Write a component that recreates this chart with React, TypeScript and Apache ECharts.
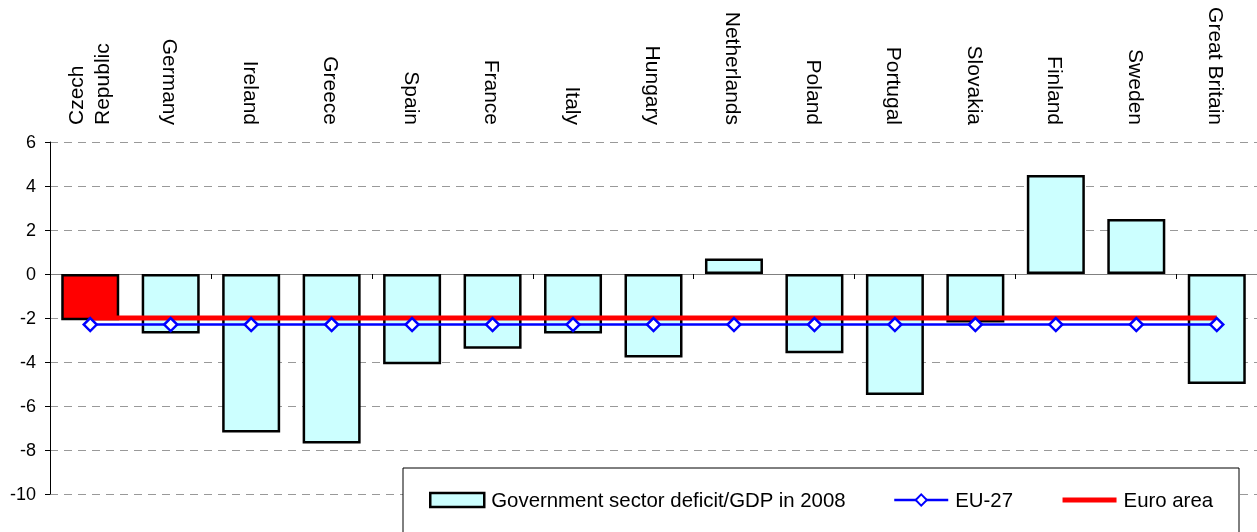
import React, { useEffect, useRef } from "react";
import * as echarts from "echarts";

const categories = [
  "Czech\nRepublic", "Germany", "Ireland", "Greece", "Spain", "France", "Italy",
  "Hungary", "Netherlands", "Poland", "Portugal", "Slovakia", "Finland", "Sweden", "Great Britain",
];
const deficit = [-2.1, -2.7, -7.2, -7.7, -4.1, -3.4, -2.7, -3.8, 0.7, -3.6, -5.5, -2.2, 4.5, 2.5, -5.0];
const eu27 = [-2.3, -2.3, -2.3, -2.3, -2.3, -2.3, -2.3, -2.3, -2.3, -2.3, -2.3, -2.3, -2.3, -2.3, -2.3];
const euroArea = [-2.0, -2.0, -2.0, -2.0, -2.0, -2.0, -2.0, -2.0, -2.0, -2.0, -2.0, -2.0, -2.0, -2.0, -2.0];
const yTicks = { min: -10, max: 6, interval: 2 };

export default function App() {
  const ref = useRef<HTMLDivElement>(null);
  useEffect(() => {
    if (!ref.current) return;
    const chart = echarts.init(ref.current, null, { renderer: "svg" });
    const font = "'Liberation Sans', Arial, sans-serif";
    const firstLines = categories[0].split("\n");
    chart.setOption({
      animation: false,
      textStyle: { fontFamily: font, color: "#000" },
      grid: { left: 50, top: 142, width: 1210, height: 352, containLabel: false },
      xAxis: [
        {
          type: "category",
          data: categories,
          position: "bottom",
          axisLine: { onZero: true, lineStyle: { color: "#808080", width: 1 } },
          axisTick: { show: true, length: 5, lineStyle: { color: "#000" } },
          axisLabel: { show: false },
          splitLine: { show: false },
        },
        {
          type: "category",
          data: categories,
          position: "top",
          axisLine: { show: false },
          axisTick: { show: false },
          axisLabel: {
            rotate: 90,
            margin: 17,
            fontSize: 21,
            color: "#000",
            fontFamily: font,
            interval: 0,
            formatter: (v: string, i: number) => (i === 0 ? "" : v),
          },
        },
      ],
      yAxis: {
        type: "value",
        min: yTicks.min,
        max: yTicks.max,
        interval: yTicks.interval,
        axisLine: { show: true, lineStyle: { color: "#000", width: 1 } },
        axisTick: { show: true, length: 5, lineStyle: { color: "#000" } },
        axisLabel: { fontSize: 18, margin: 14, color: "#000", fontFamily: font },
        splitLine: { show: true, lineStyle: { color: "#999", type: [8, 6], width: 1 } },
      },
      legend: {
        left: 424,
        top: 485,
        itemWidth: 54,
        itemHeight: 14,
        itemGap: 47,
        textStyle: { fontSize: 20.4, color: "#000", fontFamily: font, padding: [0, 0, 0, 2] },
        data: [
          {
            name: "Government sector deficit/GDP in 2008",
            icon: "rect",
            itemStyle: { borderWidth: 2.5, borderColor: "#000" },
          },
          { name: "EU-27", lineStyle: { width: 2.5 } },
          { name: "Euro area", itemStyle: { opacity: 0 }, lineStyle: { width: 5 } },
        ],
        z: 10,
      },
      graphic: [
        {
          type: "rect",
          x: 403,
          y: 468,
          shape: { width: 836, height: 90 },
          style: { fill: "#fff", stroke: "#000", lineWidth: 1 },
          z: 5,
        },
        ...firstLines.map((t, i) => ({
          type: "text",
          x: 75 + i * 26,
          y: 125,
          rotation: Math.PI / 2,
          style: {
            text: t,
            font: `21px ${font}`,
            fill: "#000",
            align: "left",
            verticalAlign: "middle",
          },
          z: 5,
        })),
      ],
      series: [
        {
          name: "Government sector deficit/GDP in 2008",
          type: "bar",
          barWidth: 58,
          data: deficit.map((v, i) =>
            i === 0 ? { value: v, itemStyle: { color: "#ff0000" } } : v
          ),
          itemStyle: { color: "#ccffff", borderColor: "#000", borderWidth: 2.5 },
          z: 2,
        },
        {
          name: "Euro area",
          type: "line",
          data: euroArea,
          symbol: "none",
          lineStyle: { color: "#ff0000", width: 5 },
          itemStyle: { color: "#ff0000" },
          z: 3,
        },
        {
          name: "EU-27",
          type: "line",
          data: eu27,
          symbol: "diamond",
          symbolSize: 13,
          lineStyle: { color: "#0000ff", width: 2.5 },
          itemStyle: { color: "#fff", borderColor: "#0000ff", borderWidth: 2.5 },
          z: 4,
        },
      ],
    });
    return () => chart.dispose();
  }, []);
  return (
    <div
      ref={ref}
      style={{ position: "fixed", left: 0, top: 0, width: 1257, height: 532 }}
    />
  );
}
